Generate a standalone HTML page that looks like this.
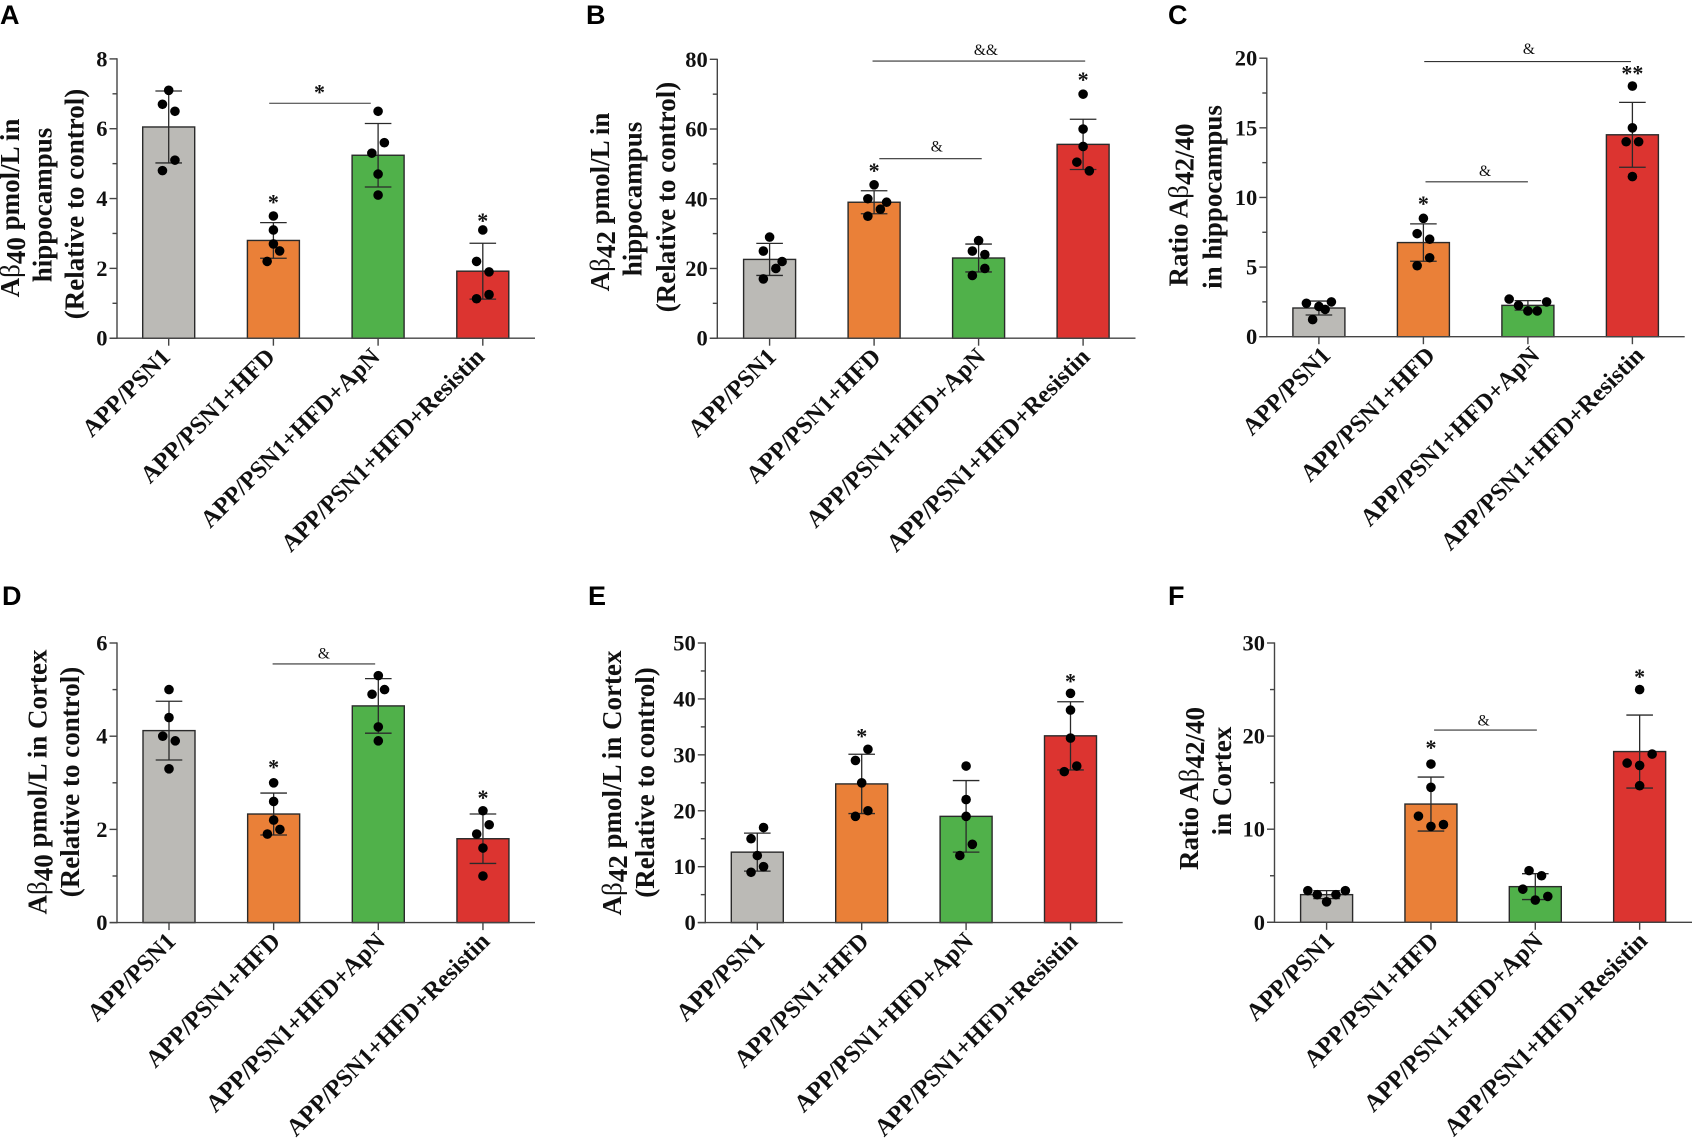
<!DOCTYPE html>
<html lang="en">
<head>
<meta charset="utf-8">
<title>Amyloid beta levels in hippocampus and cortex</title>
<style>
html,body{margin:0;padding:0;background:#fff;width:1692px;height:1145px;overflow:hidden}
svg{display:block}
text{font-family:"Liberation Serif",serif;font-weight:700;fill:#111}
.letter{font-family:"Liberation Sans",sans-serif;font-size:27px;fill:#000}
.ytitle{font-size:27px;text-anchor:middle}
.thin{font-weight:400}
</style>
</head>
<body>
<svg id="figure" xmlns="http://www.w3.org/2000/svg" width="1692" height="1145" viewBox="0 0 1692 1145">
  <rect width="1692" height="1145" fill="#fff"/>

  <g id="panel-a">
    <text class="letter" x="0" y="24">A</text>
    <g>
      <text class="ytitle" transform="translate(19,208) rotate(-90)">A<tspan class="thin">β</tspan><tspan dy="6">40</tspan><tspan dy="-6"> pmol/L in</tspan></text>
      <text class="ytitle" transform="translate(51.5,205) rotate(-90)">hippocampus</text>
      <text class="ytitle" transform="translate(83.5,204) rotate(-90)">(Relative to control)</text>
    </g>
  </g>
  <g id="panel-b">
    <text class="letter" x="586" y="24">B</text>
    <g>
      <text class="ytitle" transform="translate(609,202) rotate(-90)">A<tspan class="thin">β</tspan><tspan dy="6">42</tspan><tspan dy="-6"> pmol/L in</tspan></text>
      <text class="ytitle" transform="translate(641.5,199) rotate(-90)">hippocampus</text>
      <text class="ytitle" transform="translate(675,197) rotate(-90)">(Relative to control)</text>
    </g>
  </g>
  <g id="panel-c">
    <text class="letter" x="1168" y="24">C</text>
    <g>
      <text class="ytitle" transform="translate(1187.5,205) rotate(-90)">Ratio A<tspan class="thin">β</tspan><tspan dy="6">42/40</tspan></text>
      <text class="ytitle" transform="translate(1221.5,197) rotate(-90)">in hippocampus</text>
    </g>
  </g>
  <g id="panel-d">
    <text class="letter" x="2" y="605">D</text>
    <g>
      <text class="ytitle" transform="translate(46.5,782) rotate(-90)">A<tspan class="thin">β</tspan><tspan dy="6">40</tspan><tspan dy="-6"> pmol/L in Cortex</tspan></text>
      <text class="ytitle" transform="translate(79,782) rotate(-90)">(Relative to control)</text>
    </g>
  </g>
  <g id="panel-e">
    <text class="letter" x="588" y="605">E</text>
    <g>
      <text class="ytitle" transform="translate(621,783) rotate(-90)">A<tspan class="thin">β</tspan><tspan dy="6">42</tspan><tspan dy="-6"> pmol/L in Cortex</tspan></text>
      <text class="ytitle" transform="translate(654,782.5) rotate(-90)">(Relative to control)</text>
    </g>
  </g>
  <g id="panel-f">
    <text class="letter" x="1168" y="605">F</text>
    <g>
      <text class="ytitle" transform="translate(1198,788.5) rotate(-90)">Ratio A<tspan class="thin">β</tspan><tspan dy="6">42/40</tspan></text>
      <text class="ytitle" transform="translate(1231,781) rotate(-90)">in Cortex</text>
    </g>
  </g>
</svg>

<script>
const categories = ['APP/PSN1', 'APP/PSN1+HFD', 'APP/PSN1+HFD+ApN', 'APP/PSN1+HFD+Resistin'];

// Panel A
const aTicks = [0, 2, 4, 6, 8];
const aMeans = [6.05, 2.8, 5.24, 1.92];
const aSds = [1.03, 0.51, 0.91, 0.8];
const aPoints = [[7.1, 6.7, 6.5, 5.1, 4.8], [3.5, 3.1, 2.7, 2.5, 2.2], [6.5, 5.6, 5.3, 4.7, 4.1], [3.1, 2.2, 1.9, 1.25, 1.13]];
const aSlots = [[0, -1, 1, 1, -1], [0, 0, 0, 1, -1], [0, 1, -1, 0, 0], [0, -1, 1, 1, -1]];
const aStars = [[1, 3.98, '*'], [3, 3.46, '*']];
const aBrackets = [[0.96, 1.93, 6.73, '*', 1.44, 7.14]];

// Panel B
const bTicks = [0, 20, 40, 60, 80];
const bMeans = [22.6, 39, 23, 55.6];
const bSds = [4.6, 3.3, 4, 7.2];
const bPoints = [[29, 25, 22, 20, 17], [44, 40, 39, 37, 35], [28, 25, 24, 20, 18], [70, 60, 55, 50.5, 48]];
const bSlots = [[0, -1, 2, 1, -1], [0, -1, 2, 1, -1], [0, -1, 1, 1, -1], [0, 0, 0, -1, 1]];
const bStars = [[1, 49, '*'], [3, 75.1, '*']];
const bBrackets = [[0.985, 3.02, 79.5, '&&', 2.07, 82.6], [1.05, 2.03, 51.5, '&', 1.6, 55]];

// Panel C
const cTicks = [0, 5, 10, 15, 20];
const cMeans = [2.06, 6.76, 2.25, 14.5];
const cSds = [0.5, 1.34, 0.34, 2.33];
const cPoints = [[2.4, 2.5, 2.17, 1.96, 1.23], [8.5, 7.4, 7, 5.67, 5.1], [2.7, 2.5, 2.25, 1.85, 1.85], [18, 15, 14, 14, 11.5]];
const cSlots = [[-2, 2, 0, 1, -1], [0, -1, 1, 1, -1], [-3, 3, -1.5, 0, 1.5], [0, 0, -1, 1, 0]];
const cStars = [[1, 9.77, '*'], [3, 19.14, '**']];
const cBrackets = [[1.008, 2.986, 19.76, '&', 2.01, 20.65], [1.02, 2, 11.12, '&', 1.59, 11.9]];

// Panel D
const dTicks = [0, 2, 4, 6];
const dMeans = [4.12, 2.33, 4.65, 1.8];
const dSds = [0.63, 0.45, 0.585, 0.53];
const dPoints = [[5, 4.4, 4, 3.9, 3.3], [3, 2.6, 2.2, 2, 1.9], [5.3, 5, 4.9, 4.2, 3.9], [2.4, 2.1, 1.9, 1.6, 1]];
const dSlots = [[0, 0, -1, 1, 0], [0, 0, 0, 1, -1], [0, 1, -1, 0, 0], [0, 1, -1, 0, 0]];
const dStars = [[1, 3.4, '*'], [3, 2.75, '*']];
const dBrackets = [[0.99, 1.97, 5.55, '&', 1.48, 5.77]];

// Panel E
const eTicks = [0, 10, 20, 30, 40, 50];
const eMeans = [12.6, 24.8, 19, 33.4];
const eSds = [3.4, 5.3, 6.4, 6.1];
const ePoints = [[17, 15, 12, 10, 9], [31, 29, 25, 20, 19], [28, 22, 19, 14, 12], [41, 38, 33, 28, 27]];
const eSlots = [[1, -1, 0, 1, -1], [1, -1, 0, 1, -1], [0, 0, 0, 1, -1], [0, 0, 0, 1, -1]];
const eStars = [[1, 33.9, '*'], [3, 43.7, '*']];
const eBrackets = [];

// Panel F
const fTicks = [0, 10, 20, 30];
const fMeans = [2.97, 12.7, 3.83, 18.34];
const fSds = [0.43, 2.9, 1.39, 3.92];
const fPoints = [[3.4, 3.4, 2.97, 2.97, 2.2], [17, 14.5, 11.4, 10.5, 10.3], [5.55, 5, 3.56, 2.78, 2.39], [25, 18.07, 17.1, 16.85, 14.67]];
const fSlots = [[-3, 3, -1.5, 1.5, 0], [0, 0, -2, 2, 0], [-1, 1, -2, 2, 0], [0, 2, -2, 0, 0]];
const fStars = [[1, 19.1, '*'], [3, 26.75, '*']];
const fBrackets = [[1.03, 2.015, 20.65, '&', 1.505, 21.7]];

const barFills = ['#bbbab6', '#ea8038', '#50b14a', '#dc3430'];
const NS = 'http://www.w3.org/2000/svg';

function make(parent, tag, props, text) {
  const el = document.createElementNS(NS, tag);
  for (const k in props) el.setAttribute(k, props[k]);
  if (text !== undefined) el.textContent = text;
  parent.appendChild(el);
  return el;
}

function drawPanel(p) {
  const root = document.getElementById(p.id);
  const yScale = v => p.base - (v / p.ticks[p.ticks.length - 1]) * (p.base - p.top);
  const xScale = c => p.cat0 + c * p.step;
  const ink = '#2a2a2a';

  const marks = make(root, 'g', {});
  
  

  // bars
  p.means.forEach((m, i) => {
    const y = yScale(m);
    const bar = make(marks, 'rect', {
      x: xScale(i) - p.half, y: y, width: p.half * 2, height: p.base - y,
      fill: barFills[i], stroke: ink, 'stroke-width': 1.4
    });
    
    
  });

  // error bars
  p.means.forEach((m, i) => {
    const cx = xScale(i);
    const hi = yScale(m + p.sds[i]);
    const lo = yScale(m - p.sds[i]);
    const eb = make(marks, 'path', {
      d: `M${cx} ${hi}V${lo}M${cx - 13.3} ${hi}H${cx + 13.3}M${cx - 13.3} ${lo}H${cx + 13.3}`,
      fill: 'none', stroke: ink, 'stroke-width': 1.3
    });
    
    
  });

  // data points
  p.points.forEach((series, i) => {
    series.forEach((v, j) => {
      const dot = make(marks, 'circle', {
        cx: xScale(i) + p.slots[i][j] * 6.25, cy: yScale(v), r: 4.8, fill: '#000'
      });
      
      
    });
  });

  // y axis
  const yAxis = make(root, 'g', { stroke: '#444', 'stroke-width': 1.4, fill: 'none' });
  
  
  make(yAxis, 'line', { x1: p.axis, x2: p.axis, y1: p.top - 0.6, y2: p.base + 0.6 });
  p.ticks.forEach((t, i) => {
    make(yAxis, 'line', { x1: p.axis - 7.5, x2: p.axis, y1: yScale(t), y2: yScale(t) });
    if (i < p.ticks.length - 1) {
      const minor = (t + p.ticks[i + 1]) / 2;
      make(yAxis, 'line', { x1: p.axis - 4.5, x2: p.axis, y1: yScale(minor), y2: yScale(minor) });
    }
    const lab = make(root, 'text', {
      x: p.axis - 9.5, y: yScale(t) + 7.5, 'text-anchor': 'end', 'font-size': 22.5
    }, String(t));
    
    
  });

  // x axis
  const xAxis = make(root, 'g', { stroke: '#444', 'stroke-width': 1.4, fill: 'none' });
  
  
  make(xAxis, 'line', { x1: p.axis - 7.5, x2: p.right, y1: p.base, y2: p.base });
  categories.forEach((name, i) => {
    const cx = xScale(i);
    make(xAxis, 'line', { x1: cx, x2: cx, y1: p.base, y2: p.base + 7.5 });
    const lx = cx + p.labelDx;
    const ly = p.base + 20;
    const lab = make(root, 'text', {
      transform: `translate(${lx},${ly}) rotate(-45)`, 'text-anchor': 'end', 'font-size': 24.5
    }, name);
    
    
  });

  // significance asterisks above bars
  p.stars.forEach(s => {
    const st = make(root, 'text', {
      x: xScale(s[0]), y: yScale(s[1]) + 10.5, 'text-anchor': 'middle', 'font-size': 22
    }, s[2]);
    
    
  });

  // comparison brackets
  p.brackets.forEach(b => {
    const ln = make(root, 'line', {
      x1: xScale(b[0]), x2: xScale(b[1]), y1: yScale(b[2]), y2: yScale(b[2]),
      stroke: '#333', 'stroke-width': 1.1
    });
    
    
    const isStar = b[3] === '*';
    const lb = make(root, 'text', {
      x: xScale(b[4]), y: yScale(b[5]) + (isStar ? 10.5 : 5),
      'text-anchor': 'middle', 'font-size': isStar ? 22 : 15.5,
      style: isStar ? '' : 'font-weight:400'
    }, b[3]);
    
    
  });
}

drawPanel({ id: 'panel-a', axis: 117, top: 58.9, base: 338.2, right: 535, cat0: 168.7, step: 104.7, half: 26, labelDx: 3,
  ticks: aTicks, means: aMeans, sds: aSds, points: aPoints, slots: aSlots, stars: aStars, brackets: aBrackets });
drawPanel({ id: 'panel-b', axis: 717.3, top: 59.3, base: 338.2, right: 1135.5, cat0: 769.6, step: 104.5, half: 26, labelDx: 8,
  ticks: bTicks, means: bMeans, sds: bSds, points: bPoints, slots: bSlots, stars: bStars, brackets: bBrackets });
drawPanel({ id: 'panel-c', axis: 1266.8, top: 58.2, base: 336.7, right: 1684.7, cat0: 1318.9, step: 104.5, half: 26, labelDx: 13,
  ticks: cTicks, means: cMeans, sds: cSds, points: cPoints, slots: cSlots, stars: cStars, brackets: cBrackets });
drawPanel({ id: 'panel-d', axis: 117, top: 643, base: 922.6, right: 535, cat0: 169, step: 104.65, half: 26, labelDx: 8,
  ticks: dTicks, means: dMeans, sds: dSds, points: dPoints, slots: dSlots, stars: dStars, brackets: dBrackets });
drawPanel({ id: 'panel-e', axis: 705.3, top: 643, base: 922.6, right: 1122.7, cat0: 757.3, step: 104.4, half: 26, labelDx: 8.5,
  ticks: eTicks, means: eMeans, sds: eSds, points: ePoints, slots: eSlots, stars: eStars, brackets: eBrackets });
drawPanel({ id: 'panel-f', axis: 1274.5, top: 643, base: 922.3, right: 1692, cat0: 1326.6, step: 104.35, half: 26, labelDx: 9,
  ticks: fTicks, means: fMeans, sds: fSds, points: fPoints, slots: fSlots, stars: fStars, brackets: fBrackets });
</script>
</body>
</html>
